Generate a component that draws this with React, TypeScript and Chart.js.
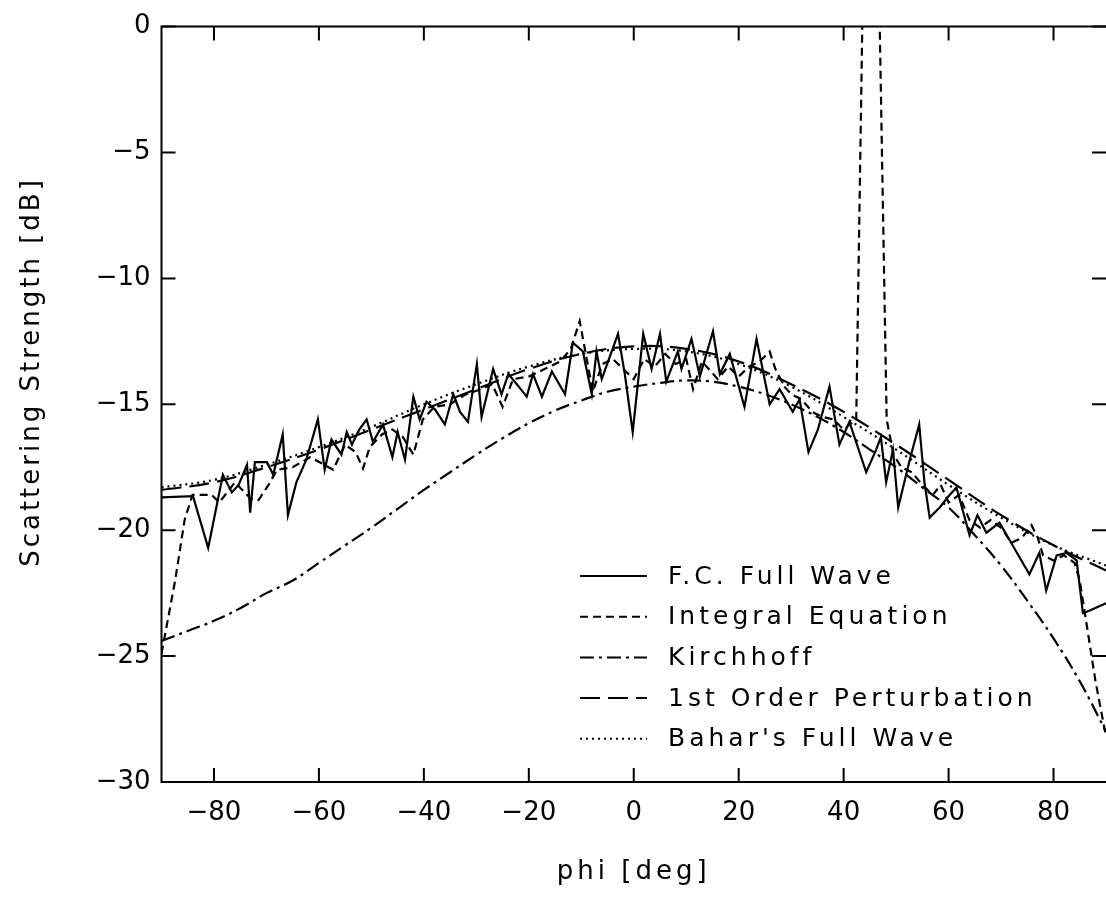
import React, { useEffect, useRef } from "react";
import { Chart, registerables } from "chart.js";

Chart.register(...registerables);

const FONT = "'DejaVu Sans', 'Liberation Sans', sans-serif";

// Tick values
const xTickValues = [-80, -60, -40, -20, 0, 20, 40, 60, 80];
const yTickValues = [0, -5, -10, -15, -20, -25, -30];

// F.C. Full Wave (solid)
const fcPhi = [
  -90, -84, -81.1, -78.3, -76.6, -75.3, -73.7, -73.1, -72.2, -69.9,
  -68.7, -66.9, -65.9, -64.3, -62.4, -60.2, -58.9, -57.6, -55.7, -54.7,
  -53.7, -52.3, -50.9, -49.7, -47.8, -46.0, -45.0, -43.6, -42.0, -40.8,
  -39.5, -37.9, -36.0, -34.4, -33.1, -31.6, -29.9, -29.0, -26.8, -25.2,
  -23.9, -22.3, -20.4, -19.2, -17.5, -15.6, -13.1, -11.6, -9.7, -8.0,
  -7.1, -6.1, -3.0, -1.7, -0.2, 1.8, 3.4, 5.0, 6.2, 8.4,
  9.1, 11.0, 12.6, 15.1, 16.4, 18.3, 21.1, 23.4, 25.9, 27.8,
  30.3, 31.6, 33.3, 35.1, 37.3, 39.2, 41.1, 44.3, 46.2, 47.1,
  48.1, 49.4, 50.4, 52.6, 54.4, 55.4, 56.4, 58.3, 60.2, 61.5,
  64.0, 65.5, 67.2, 69.7, 72.2, 75.4, 77.3, 78.6, 80.6, 82.5,
  84.4, 85.6, 86.8, 90,
];
const fcVal = [
  -18.7, -18.65, -20.7, -17.8, -18.5, -18.2, -17.4, -19.3, -17.3, -17.3,
  -17.8, -16.2, -19.4, -18.1, -17.2, -15.6, -17.6, -16.4, -17.0, -16.1,
  -16.6, -16.0, -15.6, -16.5, -15.8, -17.1, -16.1, -17.2, -14.7, -15.6,
  -14.9, -15.2, -15.8, -14.6, -15.3, -15.7, -13.4, -15.5, -13.6, -14.6,
  -13.8, -14.2, -14.7, -13.8, -14.7, -13.7, -14.6, -12.55, -12.9, -14.6,
  -12.9, -14.0, -12.2, -13.8, -16.1, -12.2, -13.6, -12.2, -14.1, -12.9,
  -13.6, -12.4, -13.9, -12.1, -13.8, -13.0, -15.1, -12.4, -15.0, -14.4,
  -15.3, -14.8, -16.9, -16.0, -14.3, -16.6, -15.7, -17.7, -16.8, -16.3,
  -18.1, -16.8, -19.1, -17.2, -15.8, -18.1, -19.5, -19.1, -18.6, -18.3,
  -20.2, -19.4, -20.1, -19.7, -20.6, -21.75, -20.9, -22.4, -21.0, -20.9,
  -21.2, -23.3, -23.2, -22.9,
];

// Integral Equation (short dash)
const iePhi = [
  -90, -87.4, -85.6, -84.1, -80.4, -79, -76, -73, -71.5, -69.6,
  -68, -65, -61.7, -59, -57.3, -55, -53, -51.6, -50.3, -48,
  -46, -44, -42, -40.2, -38, -35, -32, -29, -27, -25,
  -23, -20, -17, -14, -12, -10.3, -7.8, -6, -4, -2,
  0, 2, 4, 6, 8, 10, 11.3, 13, 16, 18,
  20, 22, 24, 25.9, 27, 28.7, 30, 32, 34, 36,
  38, 40, 42.4, 45.1, 48.2, 49.5, 51, 53, 55, 57,
  58.5, 60, 62, 64, 66, 68, 70, 72, 74, 75.8,
  77, 78, 80, 82, 84, 85, 86.5, 88, 90,
];
const ieVal = [
  -24.9, -22.0, -19.6, -18.6, -18.6, -18.9, -18.1, -18.75, -18.8, -18.2,
  -17.6, -17.5, -17.1, -17.4, -17.6, -16.6, -16.9, -17.55, -16.7, -16.2,
  -16.0, -16.3, -17.0, -15.6, -15.1, -15.0, -14.6, -14.4, -14.2, -15.1,
  -14.0, -13.9, -13.6, -13.3, -12.8, -11.7, -14.5, -13.4, -13.2, -13.6,
  -14.0, -13.2, -13.5, -13.0, -13.4, -13.2, -14.4, -13.3, -14.0, -13.5,
  -13.9, -13.5, -13.3, -12.9, -13.6, -14.3, -14.6, -14.8, -15.3, -15.5,
  -15.6, -16.0, -15.6, 21, -15.6, -17.0, -17.5, -17.7, -18.2, -18.6,
  -18.2, -18.9, -18.6, -19.6, -19.9, -19.6, -19.9, -20.5, -20.3, -19.8,
  -20.3, -21.0, -21.2, -21.0, -21.3, -22.0, -24.0, -26.0, -28.2,
];

// Kirchhoff (dash-dot), every 5 deg
const kPhi = [
  -90, -85, -80, -75, -70, -65, -60, -55, -50, -45, -40, -35, -30, -25, -20, -15, -10, -5, 0,
  5, 10, 15, 20, 25, 30, 35, 40, 45, 50, 55, 60, 65, 70, 75, 80, 85, 90,
];
const kVal = [
  -24.4, -24.0, -23.6, -23.1, -22.5, -22.0, -21.3, -20.6, -19.9, -19.15, -18.4, -17.7, -17.0, -16.35, -15.75, -15.25, -14.85, -14.5, -14.3,
  -14.15, -14.05, -14.1, -14.3, -14.6, -15.0, -15.5, -16.1, -16.8, -17.5, -18.3, -19.1, -20.2, -21.4, -22.8, -24.3, -26.0, -28.0,
];

// 1st Order Perturbation and Bahar's Full Wave, every 10 deg
const smoothPhi = [-90, -80, -70, -60, -50, -40, -30, -20, -10, 0, 10, 20, 30, 40, 50, 60, 70, 80, 90];
const pertVal = [-18.4, -18.1, -17.5, -16.8, -16.0, -15.2, -14.4, -13.6, -13.0, -12.7, -12.8, -13.3, -14.2, -15.3, -16.6, -18.0, -19.4, -20.6, -21.6];
const baharVal = [-18.3, -18.0, -17.4, -16.7, -15.9, -15.0, -14.2, -13.5, -13.0, -12.8, -12.9, -13.4, -14.3, -15.5, -16.8, -18.2, -19.5, -20.6, -21.4];

const seriesLabels = ["F.C. Full Wave", "Integral Equation", "Kirchhoff", "1st Order Perturbation", "Bahar's Full Wave"];
const seriesDash: number[][] = [[], [8, 5], [14, 5, 3, 5], [20, 8], [2, 4]];

const xTitle = "phi [deg]";
const yTitle = "Scattering Strength [dB]";

function fmt(v: number): string {
  return v < 0 ? "\u2212" + Math.abs(v) : String(v);
}

function zip(xs: number[], ys: number[]) {
  return xs.map((x, i) => ({ x, y: ys[i] }));
}

const framePlugin = {
  id: "frame",
  afterDraw(chart: any) {
    const { ctx, chartArea: a, scales } = chart;
    const xs = scales.x;
    const ys = scales.y;
    ctx.save();
    ctx.strokeStyle = "#000";
    ctx.lineWidth = 2;
    ctx.setLineDash([]);
    ctx.beginPath();
    ctx.moveTo(a.right, a.top);
    ctx.lineTo(a.left, a.top);
    ctx.lineTo(a.left, a.bottom);
    ctx.lineTo(a.right, a.bottom);
    ctx.stroke();
    const T = 14;
    ctx.beginPath();
    xTickValues.forEach((v) => {
      const px = xs.getPixelForValue(v);
      ctx.moveTo(px, a.bottom);
      ctx.lineTo(px, a.bottom - T);
      ctx.moveTo(px, a.top);
      ctx.lineTo(px, a.top + T);
    });
    yTickValues.forEach((v) => {
      const py = ys.getPixelForValue(v);
      ctx.moveTo(a.left, py);
      ctx.lineTo(a.left + T, py);
      ctx.moveTo(a.right, py);
      ctx.lineTo(a.right - T, py);
    });
    ctx.stroke();

    // Titles
    ctx.fillStyle = "#000";
    ctx.font = `26px ${FONT}`;
    (ctx as any).letterSpacing = "4px";
    ctx.textAlign = "center";
    ctx.textBaseline = "middle";
    ctx.fillText(xTitle, (a.left + a.right) / 2, 872);
    ctx.save();
    ctx.translate(32, 372);
    ctx.rotate(-Math.PI / 2);
    (ctx as any).letterSpacing = "3px";
    ctx.fillText(yTitle, 0, 0);
    ctx.restore();

    // Legend
    const lx0 = 580;
    const lx1 = 647;
    const tx = 668;
    const ly0 = 576;
    const dy = 40.7;
    (ctx as any).letterSpacing = "4px";
    ctx.font = `25px ${FONT}`;
    ctx.textAlign = "left";
    chart.data.datasets.forEach((ds: any, i: number) => {
      const y = ly0 + i * dy;
      ctx.beginPath();
      ctx.setLineDash(ds.borderDash || []);
      ctx.lineWidth = 2;
      ctx.moveTo(lx0, y);
      ctx.lineTo(lx1, y);
      ctx.stroke();
      ctx.setLineDash([]);
      ctx.fillText(ds.label, tx, y + 1);
    });
    (ctx as any).letterSpacing = "0px";
    ctx.restore();
  },
};

export default function App() {
  const ref = useRef<HTMLCanvasElement | null>(null);
  useEffect(() => {
    document.body.style.margin = "0";
    const canvas = ref.current;
    if (!canvas) return;
    const seriesData = [
      zip(fcPhi, fcVal),
      zip(iePhi, ieVal),
      zip(kPhi, kVal),
      zip(smoothPhi, pertVal),
      zip(smoothPhi, baharVal),
    ];
    const tensions = [0, 0, 0.4, 0.4, 0.4];
    const chart = new Chart(canvas, {
      type: "line",
      data: {
        datasets: seriesData.map((d, i) => ({
          label: seriesLabels[i],
          data: d,
          borderColor: "#000",
          backgroundColor: "#000",
          borderWidth: 2.2,
          borderDash: seriesDash[i],
          pointRadius: 0,
          tension: tensions[i],
          fill: false,
        })),
      },
      options: {
        responsive: false,
        animation: false,
        layout: { padding: { top: 22, right: 0, left: 0, bottom: 0 } },
        plugins: {
          legend: { display: false },
          tooltip: { enabled: false },
        },
        scales: {
          x: {
            type: "linear",
            min: -90,
            max: 90,
            afterBuildTicks: (s: any) => {
              s.ticks = xTickValues.map((v) => ({ value: v }));
            },
            afterFit: (s: any) => {
              s.height = 115;
            },
            grid: { display: false, drawTicks: false },
            border: { display: false },
            ticks: {
              callback: (v: any) => fmt(Number(v)),
              color: "#000",
              font: { family: FONT, size: 26 },
              padding: 16,
              maxRotation: 0,
              autoSkip: false,
            },
          },
          y: {
            type: "linear",
            min: -30,
            max: 0,
            afterBuildTicks: (s: any) => {
              s.ticks = yTickValues.map((v) => ({ value: v }));
            },
            afterFit: (s: any) => {
              s.width = 161.5;
            },
            grid: { display: false, drawTicks: false },
            border: { display: false },
            ticks: {
              callback: (v: any) => fmt(Number(v)),
              color: "#000",
              font: { family: FONT, size: 26 },
              padding: 11,
              autoSkip: false,
            },
          },
        },
      },
      plugins: [framePlugin],
    });
    return () => chart.destroy();
  }, []);
  return (
    <div style={{ width: 1106, height: 897 }}>
      <canvas ref={ref} width={1106} height={897} style={{ display: "block" }} />
    </div>
  );
}
